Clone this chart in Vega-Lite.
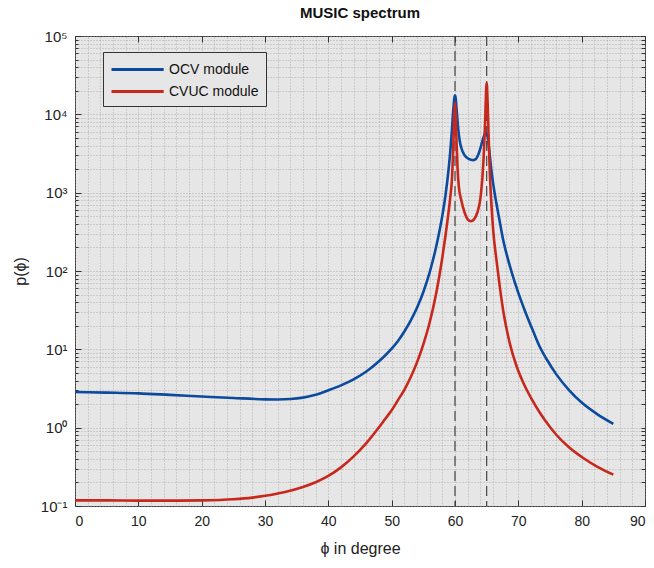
{
  "$schema": "https://vega.github.io/schema/vega-lite/v6.json",
  "width": 570,
  "height": 470,
  "autosize": {"type": "none"},
  "padding": {"left": 75, "top": 36, "right": 9, "bottom": 62},
  "background": "white",
  "title": {"text": "MUSIC spectrum", "fontSize": 15, "fontWeight": "bold", "font": "Liberation Sans", "color": "#111111", "offset": 8, "anchor": "middle"},
  "config": {
    "view": {"fill": "#e6e6e6", "stroke": "#3a3a3a", "strokeWidth": 1},
    "font": "Liberation Sans",
    "axis": {"domain": false, "gridColor": "#9a9a9a", "gridDash": [1, 2], "gridWidth": 0.8, "gridOpacity": 0.9, "tickColor": "#333333", "labelColor": "#222222", "titleColor": "#222222", "labelFont": "Liberation Sans", "titleFont": "Liberation Sans", "titleFontWeight": "normal"}
  },
  "datasets": {
    "vlines": [{"phi": 60}, {"phi": 65}],
    "spec": [
      {"series": "OCV module", "phi": 0, "p": 2.85},
      {"series": "OCV module", "phi": 5, "p": 2.8},
      {"series": "OCV module", "phi": 10, "p": 2.74},
      {"series": "OCV module", "phi": 15, "p": 2.62},
      {"series": "OCV module", "phi": 20, "p": 2.5},
      {"series": "OCV module", "phi": 25, "p": 2.39},
      {"series": "OCV module", "phi": 30, "p": 2.3},
      {"series": "OCV module", "phi": 32, "p": 2.29},
      {"series": "OCV module", "phi": 34, "p": 2.32},
      {"series": "OCV module", "phi": 36, "p": 2.42},
      {"series": "OCV module", "phi": 38, "p": 2.63},
      {"series": "OCV module", "phi": 40, "p": 3.0},
      {"series": "OCV module", "phi": 42, "p": 3.47},
      {"series": "OCV module", "phi": 44, "p": 4.14},
      {"series": "OCV module", "phi": 46, "p": 5.21},
      {"series": "OCV module", "phi": 48, "p": 7.03},
      {"series": "OCV module", "phi": 50, "p": 10.2},
      {"series": "OCV module", "phi": 51, "p": 12.8},
      {"series": "OCV module", "phi": 52, "p": 16.9},
      {"series": "OCV module", "phi": 53, "p": 23.3},
      {"series": "OCV module", "phi": 54, "p": 34},
      {"series": "OCV module", "phi": 55, "p": 54},
      {"series": "OCV module", "phi": 56, "p": 95.9},
      {"series": "OCV module", "phi": 56.5, "p": 136},
      {"series": "OCV module", "phi": 57, "p": 200},
      {"series": "OCV module", "phi": 57.5, "p": 310},
      {"series": "OCV module", "phi": 58, "p": 509},
      {"series": "OCV module", "phi": 58.5, "p": 927},
      {"series": "OCV module", "phi": 59, "p": 2030},
      {"series": "OCV module", "phi": 59.25, "p": 3310},
      {"series": "OCV module", "phi": 59.5, "p": 6050},
      {"series": "OCV module", "phi": 59.75, "p": 12000},
      {"series": "OCV module", "phi": 59.9, "p": 16200},
      {"series": "OCV module", "phi": 60, "p": 17500},
      {"series": "OCV module", "phi": 60.1, "p": 16200},
      {"series": "OCV module", "phi": 60.25, "p": 11700},
      {"series": "OCV module", "phi": 60.5, "p": 6610},
      {"series": "OCV module", "phi": 60.75, "p": 4570},
      {"series": "OCV module", "phi": 61, "p": 3720},
      {"series": "OCV module", "phi": 61.5, "p": 3020},
      {"series": "OCV module", "phi": 62, "p": 2750},
      {"series": "OCV module", "phi": 62.5, "p": 2630},
      {"series": "OCV module", "phi": 62.9, "p": 2600},
      {"series": "OCV module", "phi": 63.3, "p": 2690},
      {"series": "OCV module", "phi": 63.7, "p": 3090},
      {"series": "OCV module", "phi": 64.1, "p": 3890},
      {"series": "OCV module", "phi": 64.4, "p": 4790},
      {"series": "OCV module", "phi": 64.7, "p": 5620},
      {"series": "OCV module", "phi": 64.9, "p": 5820},
      {"series": "OCV module", "phi": 65.1, "p": 5370},
      {"series": "OCV module", "phi": 65.3, "p": 4170},
      {"series": "OCV module", "phi": 65.5, "p": 2950},
      {"series": "OCV module", "phi": 65.75, "p": 1910},
      {"series": "OCV module", "phi": 66.05, "p": 1260},
      {"series": "OCV module", "phi": 66.5, "p": 759},
      {"series": "OCV module", "phi": 67, "p": 457},
      {"series": "OCV module", "phi": 67.6, "p": 251},
      {"series": "OCV module", "phi": 68.2, "p": 158},
      {"series": "OCV module", "phi": 69, "p": 93.3},
      {"series": "OCV module", "phi": 70, "p": 52.5},
      {"series": "OCV module", "phi": 71, "p": 31.6},
      {"series": "OCV module", "phi": 72.4, "p": 16.6},
      {"series": "OCV module", "phi": 73.4, "p": 10.7},
      {"series": "OCV module", "phi": 74.5, "p": 7.41},
      {"series": "OCV module", "phi": 76, "p": 4.79},
      {"series": "OCV module", "phi": 78, "p": 3.02},
      {"series": "OCV module", "phi": 80, "p": 2.09},
      {"series": "OCV module", "phi": 82.5, "p": 1.48},
      {"series": "OCV module", "phi": 85, "p": 1.12},
      {"series": "CVUC module", "phi": 0, "p": 0.118},
      {"series": "CVUC module", "phi": 5, "p": 0.118},
      {"series": "CVUC module", "phi": 10, "p": 0.117},
      {"series": "CVUC module", "phi": 15, "p": 0.117},
      {"series": "CVUC module", "phi": 20, "p": 0.118},
      {"series": "CVUC module", "phi": 25, "p": 0.122},
      {"series": "CVUC module", "phi": 28, "p": 0.128},
      {"series": "CVUC module", "phi": 30, "p": 0.135},
      {"series": "CVUC module", "phi": 33, "p": 0.15},
      {"series": "CVUC module", "phi": 36, "p": 0.175},
      {"series": "CVUC module", "phi": 38, "p": 0.201},
      {"series": "CVUC module", "phi": 40, "p": 0.242},
      {"series": "CVUC module", "phi": 42, "p": 0.311},
      {"series": "CVUC module", "phi": 44, "p": 0.43},
      {"series": "CVUC module", "phi": 46, "p": 0.635},
      {"series": "CVUC module", "phi": 48, "p": 1.01},
      {"series": "CVUC module", "phi": 49, "p": 1.3},
      {"series": "CVUC module", "phi": 50, "p": 1.67},
      {"series": "CVUC module", "phi": 51, "p": 2.25},
      {"series": "CVUC module", "phi": 52, "p": 3.04},
      {"series": "CVUC module", "phi": 53, "p": 4.4},
      {"series": "CVUC module", "phi": 54, "p": 6.81},
      {"series": "CVUC module", "phi": 55, "p": 11.6},
      {"series": "CVUC module", "phi": 56, "p": 22},
      {"series": "CVUC module", "phi": 57, "p": 50.5},
      {"series": "CVUC module", "phi": 57.5, "p": 83.8},
      {"series": "CVUC module", "phi": 58, "p": 149},
      {"series": "CVUC module", "phi": 58.5, "p": 284},
      {"series": "CVUC module", "phi": 59, "p": 579},
      {"series": "CVUC module", "phi": 59.25, "p": 867},
      {"series": "CVUC module", "phi": 59.5, "p": 1410},
      {"series": "CVUC module", "phi": 59.75, "p": 4350},
      {"series": "CVUC module", "phi": 59.85, "p": 7800},
      {"series": "CVUC module", "phi": 59.92, "p": 11500},
      {"series": "CVUC module", "phi": 60, "p": 14000},
      {"series": "CVUC module", "phi": 60.08, "p": 11500},
      {"series": "CVUC module", "phi": 60.15, "p": 7800},
      {"series": "CVUC module", "phi": 60.25, "p": 4350},
      {"series": "CVUC module", "phi": 60.4, "p": 2090},
      {"series": "CVUC module", "phi": 60.6, "p": 1200},
      {"series": "CVUC module", "phi": 61, "p": 794},
      {"series": "CVUC module", "phi": 61.5, "p": 562},
      {"series": "CVUC module", "phi": 62, "p": 457},
      {"series": "CVUC module", "phi": 62.5, "p": 432},
      {"series": "CVUC module", "phi": 63, "p": 457},
      {"series": "CVUC module", "phi": 63.5, "p": 550},
      {"series": "CVUC module", "phi": 64, "p": 832},
      {"series": "CVUC module", "phi": 64.2, "p": 1175},
      {"series": "CVUC module", "phi": 64.35, "p": 1650},
      {"series": "CVUC module", "phi": 64.5, "p": 2630},
      {"series": "CVUC module", "phi": 64.65, "p": 4790},
      {"series": "CVUC module", "phi": 64.75, "p": 7940},
      {"series": "CVUC module", "phi": 64.85, "p": 14100},
      {"series": "CVUC module", "phi": 64.95, "p": 22900},
      {"series": "CVUC module", "phi": 65, "p": 25100},
      {"series": "CVUC module", "phi": 65.05, "p": 22900},
      {"series": "CVUC module", "phi": 65.15, "p": 14100},
      {"series": "CVUC module", "phi": 65.25, "p": 7590},
      {"series": "CVUC module", "phi": 65.35, "p": 4170},
      {"series": "CVUC module", "phi": 65.5, "p": 1780},
      {"series": "CVUC module", "phi": 65.7, "p": 832},
      {"series": "CVUC module", "phi": 66.05, "p": 316},
      {"series": "CVUC module", "phi": 66.5, "p": 148},
      {"series": "CVUC module", "phi": 67.1, "p": 60.3},
      {"series": "CVUC module", "phi": 67.6, "p": 31.6},
      {"series": "CVUC module", "phi": 68.2, "p": 17.4},
      {"series": "CVUC module", "phi": 68.7, "p": 11.5},
      {"series": "CVUC module", "phi": 69.7, "p": 6.17},
      {"series": "CVUC module", "phi": 70.8, "p": 3.72},
      {"series": "CVUC module", "phi": 72, "p": 2.4},
      {"series": "CVUC module", "phi": 73.4, "p": 1.55},
      {"series": "CVUC module", "phi": 75, "p": 1.02},
      {"series": "CVUC module", "phi": 76.1, "p": 0.794},
      {"series": "CVUC module", "phi": 78, "p": 0.562},
      {"series": "CVUC module", "phi": 80.3, "p": 0.407},
      {"series": "CVUC module", "phi": 82.5, "p": 0.316},
      {"series": "CVUC module", "phi": 85, "p": 0.251}
    ]
  },
  "layer": [
    {
      "data": {"name": "vlines"},
      "mark": {"type": "rule", "color": "#444444", "strokeWidth": 1.2, "strokeDash": [10, 5]},
      "encoding": {
        "x": {"field": "phi", "type": "quantitative", "scale": {"domain": [0, 90], "nice": false, "zero": false},
          "axis": {"orient": "bottom", "values": [0, 10, 20, 30, 40, 50, 60, 70, 80, 90], "grid": true, "tickSize": -6, "tickWidth": 1, "labelPadding": 14, "labelFontSize": 14, "title": "ϕ in degree", "titleFontSize": 16, "titlePadding": 12}}
      }
    },
    {
      "data": {"name": "spec"},
      "mark": {"type": "line", "opacity": 0, "interpolate": "monotone"},
      "encoding": {
        "x": {"field": "phi", "type": "quantitative", "scale": {"domain": [0, 90], "nice": false, "zero": false},
          "axis": {"orient": "top", "values": [0, 10, 20, 30, 40, 50, 60, 70, 80, 90], "grid": false, "labels": false, "tickSize": -6, "title": null}},
        "y": {"field": "p", "type": "quantitative", "scale": {"type": "log", "domain": [0.1, 100000], "nice": false},
          "axis": {"orient": "left", "values": [0.1, 1, 10, 100, 1000, 10000, 100000], "grid": true, "tickSize": -6, "labelPadding": 14, "labelFontSize": 15,
            "labelExpr": "['10⁻¹','10⁰','10¹','10²','10³','10⁴','10⁵'][round(log(datum.value)/LN10)+1]", "title": "p(ϕ)", "titleFontSize": 16, "titlePadding": 12}},
        "detail": {"field": "series"}
      }
    },
    {
      "data": {"name": "spec"},
      "mark": {"type": "line", "opacity": 0, "interpolate": "monotone"},
      "encoding": {
        "x": {"field": "phi", "type": "quantitative", "scale": {"domain": [0, 90], "nice": false, "zero": false}, "axis": null},
        "y": {"field": "p", "type": "quantitative", "scale": {"type": "log", "domain": [0.1, 100000], "nice": false},
          "axis": {"orient": "left", "values": [0.2,0.3,0.4,0.5,0.6,0.7,0.8,0.9,2,3,4,5,6,7,8,9,20,30,40,50,60,70,80,90,200,300,400,500,600,700,800,900,2000,3000,4000,5000,6000,7000,8000,9000,20000,30000,40000,50000,60000,70000,80000,90000], "grid": true, "labels": false, "tickSize": -3, "title": null}},
        "detail": {"field": "series"}
      }
    },
    {
      "data": {"name": "spec"},
      "mark": {"type": "line", "strokeWidth": 2.6, "interpolate": "monotone"},
      "encoding": {
        "x": {"field": "phi", "type": "quantitative", "scale": {"domain": [0, 90], "nice": false, "zero": false},
          "axis": {"orient": "top", "values": [2,4,6,8,12,14,16,18,22,24,26,28,32,34,36,38,42,44,46,48,52,54,56,58,62,64,66,68,72,74,76,78,82,84,86,88], "grid": true, "labels": false, "ticks": false, "title": null}},
        "y": {"field": "p", "type": "quantitative", "scale": {"type": "log", "domain": [0.1, 100000], "nice": false},
          "axis": {"orient": "right", "values": [0.1,0.2,0.3,0.4,0.5,0.6,0.7,0.8,0.9,1,2,3,4,5,6,7,8,9,10,20,30,40,50,60,70,80,90,100,200,300,400,500,600,700,800,900,1000,2000,3000,4000,5000,6000,7000,8000,9000,10000,20000,30000,40000,50000,60000,70000,80000,90000,100000], "grid": false, "labels": false, "tickSize": -4, "title": null}},
        "color": {"field": "series", "type": "nominal", "sort": ["OCV module", "CVUC module"],
          "scale": {"domain": ["OCV module", "CVUC module"], "range": ["#0c4a9e", "#c8281c"]},
          "legend": {"orient": "none", "legendX": 28, "legendY": 16, "title": null, "fillColor": "#e6e6e6", "strokeColor": "#333333", "padding": 7, "symbolType": "M-1,0H4.8", "symbolSize": 324, "symbolStrokeWidth": 3, "labelFontSize": 14, "labelColor": "#111111", "labelOffset": 38, "rowPadding": 4,
            "labelExpr": "datum.label + '\u00a0\u00a0\u00a0'"}}
      }
    }
  ],
  "resolve": {"axis": {"x": "independent", "y": "independent"}}
}
